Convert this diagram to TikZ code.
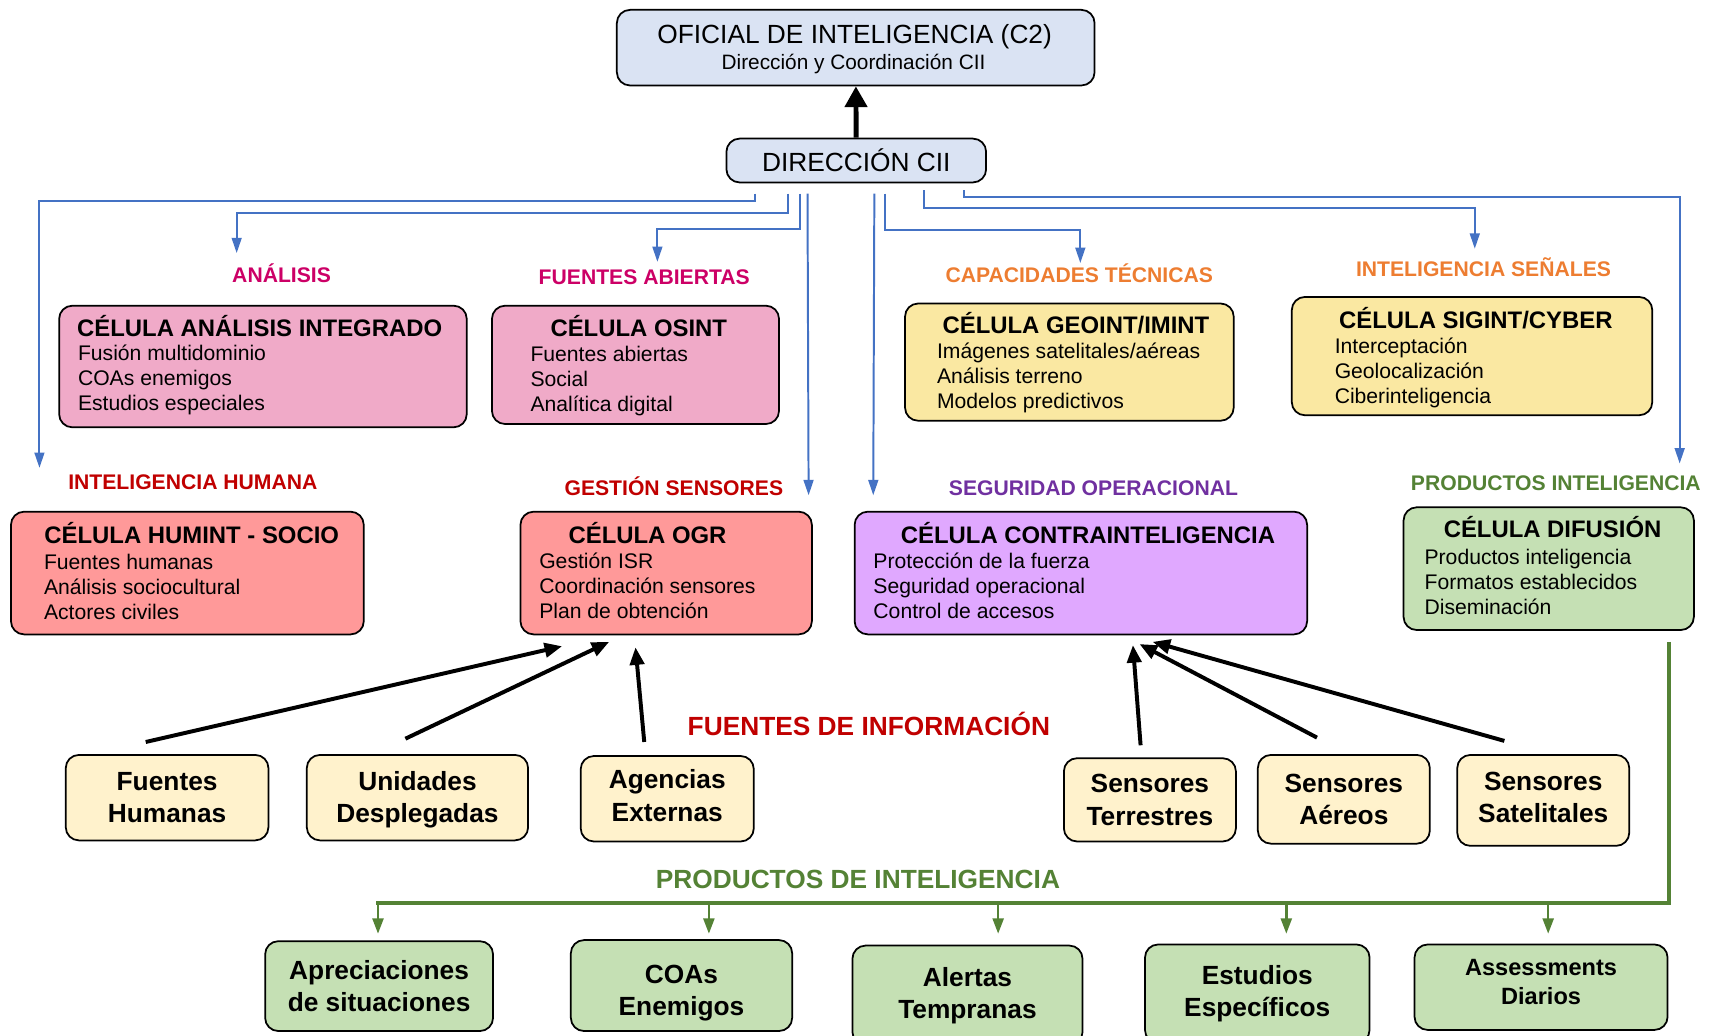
\documentclass[tikz,border=0pt]{standalone}
\usepackage{fontspec}
\setmainfont{Liberation Sans}
\usepackage{tikz}
\usetikzlibrary{arrows.meta,positioning,calc}

\definecolor{boxblue}{HTML}{DAE3F3}
\definecolor{linkblue}{HTML}{4472C4}
\definecolor{anapink}{HTML}{F0AAC8}
\definecolor{labpink}{HTML}{CC0066}
\definecolor{laborange}{HTML}{ED7D31}
\definecolor{labred}{HTML}{C00000}
\definecolor{labpurple}{HTML}{7030A0}
\definecolor{busgreen}{HTML}{548235}
\definecolor{techyellow}{HTML}{FAE8A2}
\definecolor{humsalmon}{HTML}{FF9999}
\definecolor{cililac}{HTML}{E0A8FF}
\definecolor{prodgreen}{HTML}{C5E0B4}
\definecolor{srccream}{HTML}{FFF2CC}

\tikzset{
  cell/.style={draw, line width=1.6pt, rounded corners=12pt, inner sep=0pt},
  ttl/.style={anchor=base, inner sep=0pt, font=\fontsize{21.8}{24}\selectfont\bfseries},
  lst/.style={anchor=base west, align=left, inner sep=0pt, font=\fontsize{19.3}{22.7}\selectfont},
  cat/.style={anchor=base, inner sep=0pt, font=\fontsize{19.3}{22}\selectfont\bfseries},
  src/.style={cell, fill=srccream, align=center, font=\fontsize{24}{29.5}\selectfont\bfseries},
  prod/.style={cell, fill=prodgreen, align=center, font=\fontsize{24}{29.5}\selectfont\bfseries},
  link/.style={linkblue, line width=1.8pt, -{Triangle[length=14pt,width=9pt]}},
  feed/.style={line width=3.6pt, -{Triangle[length=16pt,width=13pt]}},
  bus/.style={busgreen, line width=3.4pt},
  drop/.style={busgreen, line width=2.2pt, -{Triangle[length=14pt,width=10pt]}}
}

\begin{document}
\begin{tikzpicture}[x=1pt,y=-1pt]
  \useasboundingbox (0,0) rectangle (1568,945);
  % command nodes
  \node[cell, fill=boxblue, minimum width=436pt, minimum height=69pt] (ofi) at (781,43.5) {};
  \node[anchor=base, inner sep=0pt, font=\fontsize{24}{26}\selectfont] (ofiT) at (780,39.6) {OFICIAL DE INTELIGENCIA (C2)};
  \node[anchor=base, inner sep=0pt, font=\fontsize{19}{22}\selectfont] (ofiS) at (779,63) {Dirección y Coordinación CII};
  \node[cell, fill=boxblue, minimum width=237pt, minimum height=40pt, font=\fontsize{24}{26}\selectfont] (dir) at (781.5,146.5) {DIRECCIÓN CII};
  \draw[line width=4.5pt, -{Triangle[length=19pt,width=20pt]}] (dir) -- (ofi);

  % area labels
  \node[cat, labpink] (labAna) at (257,258) {ANÁLISIS};
  \node[cat, labpink] (labOsi) at (588,260) {FUENTES ABIERTAS};
  \node[cat, laborange] (labGeo) at (985,258) {CAPACIDADES TÉCNICAS};
  \node[cat, laborange] (labSig) at (1354,252) {INTELIGENCIA SEÑALES};
  \node[cat, labred] (labHum) at (176,447) {INTELIGENCIA HUMANA};
  \node[cat, labred] (labOgr) at (615,452) {GESTIÓN SENSORES};
  \node[cat, labpurple] (labCi) at (998,452) {SEGURIDAD OPERACIONAL};
  \node[cat, busgreen] (labDif) at (1420,448) {PRODUCTOS INTELIGENCIA};

  % cells, first row
  \node[cell, fill=anapink, minimum width=372pt, minimum height=111pt] (ana) at (240,334.5) {};
  \node[ttl] (anaT) at (237,307) {CÉLULA ANÁLISIS INTEGRADO};
  \node[lst] (anaL) at (71,374.4) {Fusión multidominio\\COAs enemigos\\Estudios especiales};
  \node[cell, fill=anapink, minimum width=262pt, minimum height=108pt] (osi) at (580,333) {};
  \node[ttl] (osiT) at (583,307) {CÉLULA OSINT};
  \node[lst] (osiL) at (484,375.4) {Fuentes abiertas\\Social\\Analítica digital};
  \node[cell, fill=techyellow, minimum width=300pt, minimum height=107pt] (geo) at (976,330.5) {};
  \node[ttl] (geoT) at (982,304) {CÉLULA GEOINT/IMINT};
  \node[lst] (geoL) at (855,372.4) {Imágenes satelitales/aéreas\\Análisis terreno\\Modelos predictivos};
  \node[cell, fill=techyellow, minimum width=329pt, minimum height=108pt] (sig) at (1343.5,325) {};
  \node[ttl] (sigT) at (1347,300) {CÉLULA SIGINT/CYBER};
  \node[lst] (sigL) at (1218,368.4) {Interceptación\\Geolocalización\\Ciberinteligencia};

  % cells, second row
  \node[cell, fill=humsalmon, minimum width=322pt, minimum height=112pt] (hum) at (171,523) {};
  \node[ttl] (humT) at (175,496) {CÉLULA HUMINT - SOCIO};
  \node[lst] (humL) at (40,565.4) {Fuentes humanas\\Análisis sociocultural\\Actores civiles};
  \node[cell, fill=humsalmon, minimum width=266pt, minimum height=112pt] (ogr) at (608,523) {};
  \node[ttl] (ogrT) at (591,496) {CÉLULA OGR};
  \node[lst] (ogrL) at (492,564.4) {Gestión ISR\\Coordinación sensores\\Plan de obtención};
  \node[cell, fill=cililac, minimum width=413pt, minimum height=112pt] (ci) at (986.5,523) {};
  \node[ttl] (ciT) at (993,496) {CÉLULA CONTRAINTELIGENCIA};
  \node[lst] (ciL) at (797,564.4) {Protección de la fuerza\\Seguridad operacional\\Control de accesos};
  \node[cell, fill=prodgreen, minimum width=265pt, minimum height=112pt] (dif) at (1413.5,519) {};
  \node[ttl] (difT) at (1417,491) {CÉLULA DIFUSIÓN};
  \node[lst] (difL) at (1300,560.4) {Productos inteligencia\\Formatos establecidos\\Diseminación};

  % blue links from direction
  \coordinate (tHum) at (36,427);
  \coordinate (tAna) at (216,231);
  \coordinate (tOsi) at (600,239);
  \coordinate (tOgr) at (738,452);
  \coordinate (tCi) at (797,452);
  \coordinate (tGeo) at (986,240);
  \coordinate (tSig) at (1346,227);
  \coordinate (tDif) at (1533,423);
  \draw[link] ([shift={(-92.5,9.5)}]dir.south) -- ++(0,6.5) -| (tHum);
  \draw[link] ([shift={(-62.5,9.5)}]dir.south) -- ++(0,18) -| (tAna);
  \draw[link] ([shift={(-51.5,9.5)}]dir.south) -- ++(0,32) -| (tOsi);
  \draw[link] ([shift={(-44.5,9.5)}]dir.south) -- (tOgr);
  \draw[link] ([shift={(16.5,9.5)}]dir.south) -- (tCi);
  \draw[link] ([shift={(26.5,9.5)}]dir.south) -- ++(0,33) -| (tGeo);
  \draw[link] ([shift={(61.5,6.5)}]dir.south) -- ++(0,16) -| (tSig);
  \draw[link] ([shift={(98.5,6.5)}]dir.south) -- ++(0,6) -| (tDif);

  % information sources
  \node[labred, anchor=base, inner sep=0pt, font=\fontsize{24}{26}\selectfont\bfseries] (fuentes) at (793,671.6) {FUENTES DE INFORMACIÓN};
  \node[src, minimum width=185pt, minimum height=78pt] (fh) at (152.5,728) {Fuentes\\Humanas};
  \node[src, minimum width=202pt, minimum height=78pt] (ud) at (381,728) {\rule{0pt}{21pt}Unidades\\Desplegadas};
  \node[src, minimum width=158pt, minimum height=78pt] (ae) at (609,729) {Agencias\\Externas\rule[-6pt]{0pt}{6pt}};
  \node[src, minimum width=157pt, minimum height=76pt] (st) at (1049.5,730) {Sensores\\Terrestres};
  \node[src, minimum width=157pt, minimum height=81pt] (sa) at (1226.5,729.5) {Sensores\\Aéreos};
  \node[src, minimum width=157pt, minimum height=83pt] (ss) at (1408.5,730.5) {Sensores\\Satelitales\rule[-6pt]{0pt}{6pt}};
  \draw[feed] ([shift={(-19.5,-11)}]fh.north) -- ([shift={(-95,10)}]ogr.south);
  \draw[feed] ([shift={(-11,-14)}]ud.north) -- ([shift={(-52,6)}]ogr.south);
  \draw[feed] ([shift={(-21,-12)}]ae.north) -- ([shift={(-28,11)}]ogr.south);
  \draw[feed] ([shift={(-8.5,-11)}]st.north) -- ([shift={(47.5,9)}]ci.south);
  \draw[feed] ([shift={(-24.5,-15)}]sa.north) -- ([shift={(53.5,8)}]ci.south);
  \draw[feed] ([shift={(-35.5,-12)}]ss.north) -- ([shift={(65.5,6)}]ci.south);

  % intelligence products
  \node[busgreen, anchor=base, inner sep=0pt, font=\fontsize{24}{26}\selectfont\bfseries] (productos) at (783,810.6) {PRODUCTOS DE INTELIGENCIA};
  \node[prod, minimum width=208pt, minimum height=82pt] (ap) at (346,900) {Apreciaciones\\de situaciones};
  \node[prod, minimum width=202pt, minimum height=83pt] (co) at (622,899.5) {\rule{0pt}{31pt}COAs\\Enemigos};
  \node[prod, minimum width=210pt, minimum height=91pt] (al) at (883,908.5) {Alertas\\Tempranas};
  \node[prod, minimum width=205pt, minimum height=90pt] (es) at (1147.5,907) {Estudios\\Específicos};
  \node[prod, minimum width=231pt, minimum height=78pt, font=\fontsize{21.5}{26}\selectfont\bfseries] (as) at (1406.5,901) {Assessments\\Diarios\rule[-10pt]{0pt}{10pt}};
  \draw[bus] ([shift={(109.5,10)}]dif.south) |- ([shift={(-2.5,-34)}]ap.north);
  \draw[drop] ([shift={(-1,-34)}]ap.north) -- ([shift={(-1,-6)}]ap.north);
  \draw[drop] ([shift={(25,-33)}]co.north) -- ([shift={(25,-5)}]co.north);
  \draw[drop] ([shift={(28,-38)}]al.north) -- ([shift={(28,-10)}]al.north);
  \draw[drop] ([shift={(26.5,-37)}]es.north) -- ([shift={(26.5,-9)}]es.north);
  \draw[drop] ([shift={(6.5,-37)}]as.north) -- ([shift={(6.5,-9)}]as.north);
\end{tikzpicture}
\end{document}
